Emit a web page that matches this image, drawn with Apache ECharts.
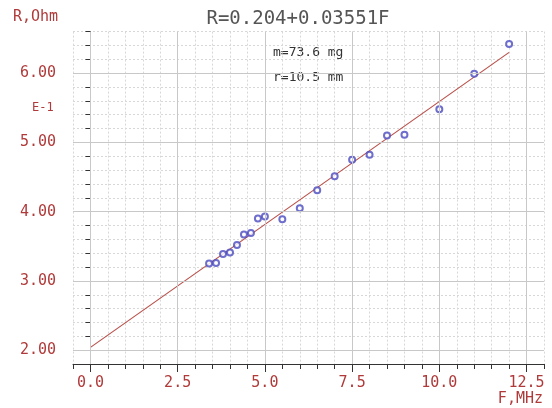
<!DOCTYPE html>
<html>
<head>
<meta charset="utf-8">
<script src="https://cdn.jsdelivr.net/npm/echarts@6/dist/echarts.min.js"></script>
<style>
  html, body { margin: 0; padding: 0; background: #fff; }
  #chart { width: 552px; height: 408px; }
</style>
</head>
<body>
<div id="chart"></div>
<script>
// measured points, F in MHz, R in units of 1e-1 Ohm
const freq = [3.4, 3.6, 3.8, 4.0, 4.2, 4.4, 4.6, 4.8, 5.0, 5.5, 6.0, 6.5, 7.0, 7.5, 8.0, 8.5, 9.0, 10.0, 11.0, 12.0];
const resist = [3.25, 3.26, 3.39, 3.41, 3.52, 3.67, 3.69, 3.90, 3.93, 3.89, 4.05, 4.31, 4.51, 4.75, 4.82, 5.10, 5.11, 5.48, 5.99, 6.42];

// fitted line end points
const fitX = [0, 12];
const fitY = [2.04, 6.30];

// major ticks / grid positions
const majorX = [0, 2.5, 5, 7.5, 10, 12.5];
const majorY = [2, 3, 4, 5, 6];

const labelRed = "#b03a3a";
const mono = "DejaVu Sans Mono";

const chart = echarts.init(document.getElementById("chart"));

const isMajor = (v, step) => Math.abs(v / step - Math.round(v / step)) < 1e-6;

// extra axes that only carry the longer major ticks
const tickAxisX = {
  type: "value", position: "bottom", min: -0.5, max: 13, interval: 0.5,
  axisLine: { show: false }, axisLabel: { show: false }, splitLine: { show: false },
  axisTick: { show: true, length: 8, customValues: majorX, lineStyle: { color: "#333" } },
};
const tickAxisY = {
  type: "value", position: "left", offset: 0, min: 1.8, max: 6.6, interval: 0.2,
  axisLine: { show: false }, axisLabel: { show: false }, splitLine: { show: false },
  axisTick: { show: true, length: 9, customValues: majorY, lineStyle: { color: "#333" } },
};

const option = {
  animation: false,
  title: {
    text: "R=0.204+0.03551F",
    left: 293,
    textAlign: "center",
    top: 5,
    textStyle: { fontFamily: mono, fontSize: 19, fontWeight: "normal", color: "#555" },
  },
  grid: { left: 73, right: 8, top: 31.6, bottom: 44 },
  xAxis: [
    {
      type: "value",
      min: -0.5,
      max: 13,
      interval: 0.5,
      axisLine: { lineStyle: { color: "#333" } },
      axisTick: { length: 5, lineStyle: { color: "#333" } },
      axisLabel: {
        margin: 12,
        fontFamily: mono,
        fontSize: 15,
        color: labelRed,
        formatter: (v) => (isMajor(v, 2.5) ? v.toFixed(1) : ""),
      },
      splitLine: { show: true, lineStyle: { color: "#d8d8d8", type: [2, 2] } },
    },
    tickAxisX,
  ],
  yAxis: [
    {
      type: "value",
      min: 1.8,
      max: 6.6,
      interval: 0.2,
      axisLine: { show: true, lineStyle: { color: "#333" } },
      axisTick: { show: true, length: 5, lineStyle: { color: "#333" } },
      axisLabel: {
        margin: 17,
        fontFamily: mono,
        fontSize: 15,
        color: labelRed,
        formatter: (v) => (isMajor(v, 1) ? v.toFixed(2) : ""),
      },
      splitLine: { show: true, lineStyle: { color: "#d8d8d8", type: [2, 2] } },
    },
    tickAxisY,
  ],
  graphic: [
    { type: "text", left: 13, top: 10, style: { text: "R,Ohm", font: "15px " + mono, fill: labelRed } },
    { type: "text", left: 32, top: 102, style: { text: "E-1", font: "12px " + mono, fill: labelRed } },
    { type: "text", right: 9, top: 392, style: { text: "F,MHz", font: "15px " + mono, fill: labelRed } },
    { type: "text", left: 273, top: 46, style: { text: "m=73.6 mg", font: "13px " + mono, fill: "#333" } },
    { type: "text", left: 273, top: 71, style: { text: "r=10.5 mm", font: "13px " + mono, fill: "#333" } },
  ],
  series: [
    {
      name: "grid",
      type: "line",
      data: [],
      silent: true,
      z: 1,
      markLine: {
        silent: true,
        symbol: "none",
        label: { show: false },
        animation: false,
        lineStyle: { color: "#c8c8c8", type: "solid", width: 1 },
        data: [
          ...majorX.map((x) => ({ xAxis: x })),
          ...majorY.map((y) => ({ yAxis: y })),
        ],
      },
    },
    {
      name: "fit",
      type: "line",
      data: fitX.map((x, i) => [x, fitY[i]]),
      showSymbol: false,
      z: 2,
      lineStyle: { color: "#b8504a", width: 1.2 },
    },
    {
      name: "data",
      type: "scatter",
      data: freq.map((f, i) => [f, resist[i]]),
      symbol: "emptyCircle",
      symbolSize: 6,
      z: 3,
      itemStyle: { color: "#4a4ac0", borderColor: "#4a4ac0", borderWidth: 1.3 },
    },
  ],
};

chart.setOption(option);
</script>
</body>
</html>
